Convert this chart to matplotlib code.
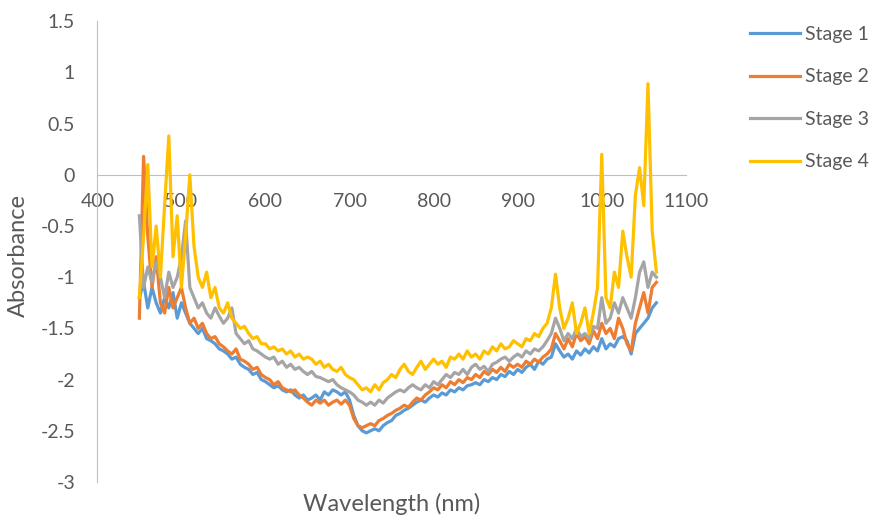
import numpy as np
import matplotlib
matplotlib.use("Agg")
import matplotlib.pyplot as plt

plt.rcParams['font.family'] = ['Lato', 'DejaVu Sans']

# wavelength grid (nm), 5 nm step
wavelength = np.arange(450, 1070, 5)

stage1 = [
    -1.20, -1.05, -1.30, -1.10, -1.25, -1.35, -1.20, -1.30, -1.15, -1.40,
    -1.25, -1.35, -1.45, -1.50, -1.55, -1.50, -1.60, -1.62, -1.65, -1.70,
    -1.72, -1.75, -1.80, -1.78, -1.85, -1.88, -1.90, -1.95, -1.93, -2.00,
    -2.02, -2.05, -2.08, -2.06, -2.10, -2.12, -2.10, -2.15, -2.18, -2.15,
    -2.20, -2.18, -2.15, -2.20, -2.12, -2.15, -2.10, -2.12, -2.15, -2.12,
    -2.20, -2.35, -2.45, -2.50, -2.52, -2.50, -2.48, -2.50, -2.45, -2.42,
    -2.40, -2.35, -2.33, -2.30, -2.28, -2.25, -2.22, -2.20, -2.22, -2.18,
    -2.15, -2.17, -2.13, -2.15, -2.10, -2.12, -2.08, -2.10, -2.06, -2.05,
    -2.03, -2.05, -2.00, -2.02, -1.98, -2.00, -1.95, -1.97, -1.92, -1.95,
    -1.90, -1.93, -1.88, -1.85, -1.90, -1.82, -1.85, -1.80, -1.78, -1.65,
    -1.72, -1.78, -1.75, -1.80, -1.72, -1.76, -1.70, -1.74, -1.68, -1.72,
    -1.60, -1.70, -1.65, -1.68, -1.60, -1.58, -1.62, -1.75, -1.55, -1.50,
    -1.45, -1.40, -1.30, -1.25,
]

stage2 = [
    -1.40, 0.18, -0.60, -1.10, -0.80, -1.25, -1.35, -1.10, -1.30, -1.20,
    -1.10, -1.30, -1.45, -1.40, -1.50, -1.45, -1.55, -1.60, -1.58, -1.65,
    -1.68, -1.72, -1.75, -1.70, -1.80, -1.82, -1.85, -1.90, -1.88, -1.95,
    -1.98, -2.00, -2.05, -2.02, -2.08, -2.10, -2.12, -2.10, -2.15, -2.18,
    -2.22, -2.25, -2.20, -2.23, -2.20, -2.25, -2.22, -2.20, -2.24, -2.20,
    -2.25, -2.38, -2.45, -2.47, -2.45, -2.43, -2.45, -2.40, -2.38, -2.35,
    -2.33, -2.30, -2.28, -2.25, -2.27, -2.22, -2.18, -2.20, -2.15, -2.12,
    -2.08, -2.10, -2.05, -2.08, -2.02, -2.05, -2.00, -2.03, -1.98, -2.00,
    -1.95, -1.98, -1.92, -1.95, -1.90, -1.93, -1.88, -1.92, -1.85, -1.88,
    -1.85, -1.88, -1.82, -1.85, -1.80, -1.83, -1.78, -1.75, -1.70, -1.55,
    -1.62, -1.70, -1.60, -1.68, -1.55, -1.62, -1.58, -1.65, -1.52, -1.60,
    -1.45, -1.55, -1.50, -1.60, -1.40, -1.50, -1.65, -1.72, -1.45, -1.30,
    -1.15, -1.35, -1.10, -1.05,
]

stage3 = [
    -0.40, -1.10, -0.90, -1.05, -0.85, -1.00, -1.20, -0.95, -1.10, -1.00,
    -0.80, -0.45, -1.10, -1.20, -1.30, -1.25, -1.35, -1.40, -1.30, -1.38,
    -1.45, -1.40, -1.30, -1.55, -1.60, -1.65, -1.62, -1.70, -1.72, -1.75,
    -1.78, -1.80, -1.78, -1.85, -1.82, -1.88, -1.85, -1.90, -1.88, -1.92,
    -1.95, -1.92, -1.97, -1.98, -2.00, -2.02, -2.00, -2.05, -2.08, -2.10,
    -2.12, -2.15, -2.20, -2.22, -2.25, -2.22, -2.25, -2.20, -2.23, -2.18,
    -2.15, -2.12, -2.10, -2.12, -2.08, -2.05, -2.08, -2.10, -2.05, -2.08,
    -2.02, -2.05, -2.00, -1.95, -1.98, -1.93, -1.95, -1.90, -1.95, -1.88,
    -1.85, -1.90, -1.87, -1.92, -1.85, -1.83, -1.80, -1.78, -1.82, -1.78,
    -1.75, -1.78, -1.72, -1.75, -1.70, -1.72, -1.68, -1.62, -1.55, -1.40,
    -1.50, -1.62, -1.55, -1.60, -1.50, -1.58, -1.55, -1.60, -1.48, -1.50,
    -1.20, -1.45, -1.40, -1.25, -1.35, -1.20, -1.30, -1.40, -1.20, -0.95,
    -0.85, -1.10, -0.95, -1.00,
]

stage4 = [
    -1.20, -0.60, 0.10, -0.90, -0.50, -1.00, -0.30, 0.38, -0.80, -0.40,
    -1.10, -0.60, 0.00, -0.70, -1.00, -1.10, -0.95, -1.20, -1.10, -1.30,
    -1.35, -1.25, -1.40, -1.45, -1.50, -1.48, -1.55, -1.60, -1.58, -1.65,
    -1.65, -1.70, -1.68, -1.72, -1.70, -1.75, -1.72, -1.78, -1.75, -1.80,
    -1.78, -1.80, -1.85, -1.82, -1.88, -1.85, -1.90, -1.92, -1.88, -1.95,
    -1.98, -2.00, -2.05, -2.10, -2.08, -2.12, -2.05, -2.10, -2.03, -2.00,
    -1.95, -1.98, -1.90, -1.85, -1.92, -1.95, -1.88, -1.82, -1.90, -1.85,
    -1.80, -1.85, -1.82, -1.88, -1.78, -1.80, -1.75, -1.80, -1.72, -1.78,
    -1.75, -1.80, -1.72, -1.75, -1.68, -1.72, -1.65, -1.70, -1.68, -1.62,
    -1.65, -1.68, -1.60, -1.62, -1.55, -1.58, -1.50, -1.45, -1.30, -0.97,
    -1.30, -1.50, -1.40, -1.25, -1.55, -1.45, -1.30, -1.55, -1.35, -1.10,
    0.20, -1.20, -1.30, -0.95, -1.10, -0.55, -0.80, -1.00, -0.20, 0.07,
    -0.30, 0.89, -0.55, -0.95,
]

series = [("Stage 1", stage1, "#5B9BD5"),
          ("Stage 2", stage2, "#ED7D31"),
          ("Stage 3", stage3, "#A5A5A5"),
          ("Stage 4", stage4, "#FFC000")]

fig = plt.figure(figsize=(8.77, 5.18), dpi=100)
ax = fig.add_axes([0.111, 0.0695, 0.671, 0.8895])

for name, vals, col in series:
    ax.plot(wavelength, vals, color=col, lw=2.3, label=name)

ax.set_xlim(400, 1100)
ax.set_ylim(-3, 1.5)
ax.set_xticks(np.arange(400, 1101, 100))
ax.set_yticks(np.arange(-3, 1.51, 0.5))
ax.set_yticklabels(["-3", "-2.5", "-2", "-1.5", "-1", "-0.5", "0", "0.5", "1", "1.5"])

axis_col = "#BFBFBF"
txt_col = "#595959"
ax.spines['top'].set_visible(False)
ax.spines['right'].set_visible(False)
ax.spines['bottom'].set_position(('data', 0))
ax.spines['bottom'].set_color(axis_col)
ax.spines['left'].set_color(axis_col)
ax.spines['bottom'].set_zorder(0)
ax.tick_params(axis='x', length=0, pad=13, labelsize=14, labelcolor=txt_col)
ax.tick_params(axis='y', length=0, pad=16, labelsize=14, labelcolor=txt_col)

fig.text(0.447, 0.027, "Wavelength (nm)", ha='center', va='center', fontsize=17, color=txt_col)
fig.text(0.021, 0.506, "Absorbance", ha='center', va='center', rotation=90, fontsize=17, color=txt_col)

fig.legend(loc='upper left', bbox_to_anchor=(0.846, 0.965), frameon=False,
           fontsize=14, labelcolor=txt_col, handlelength=2.57, handletextpad=0.26,
           labelspacing=1.31, borderaxespad=0)

fig.savefig("out.png", dpi=100)
